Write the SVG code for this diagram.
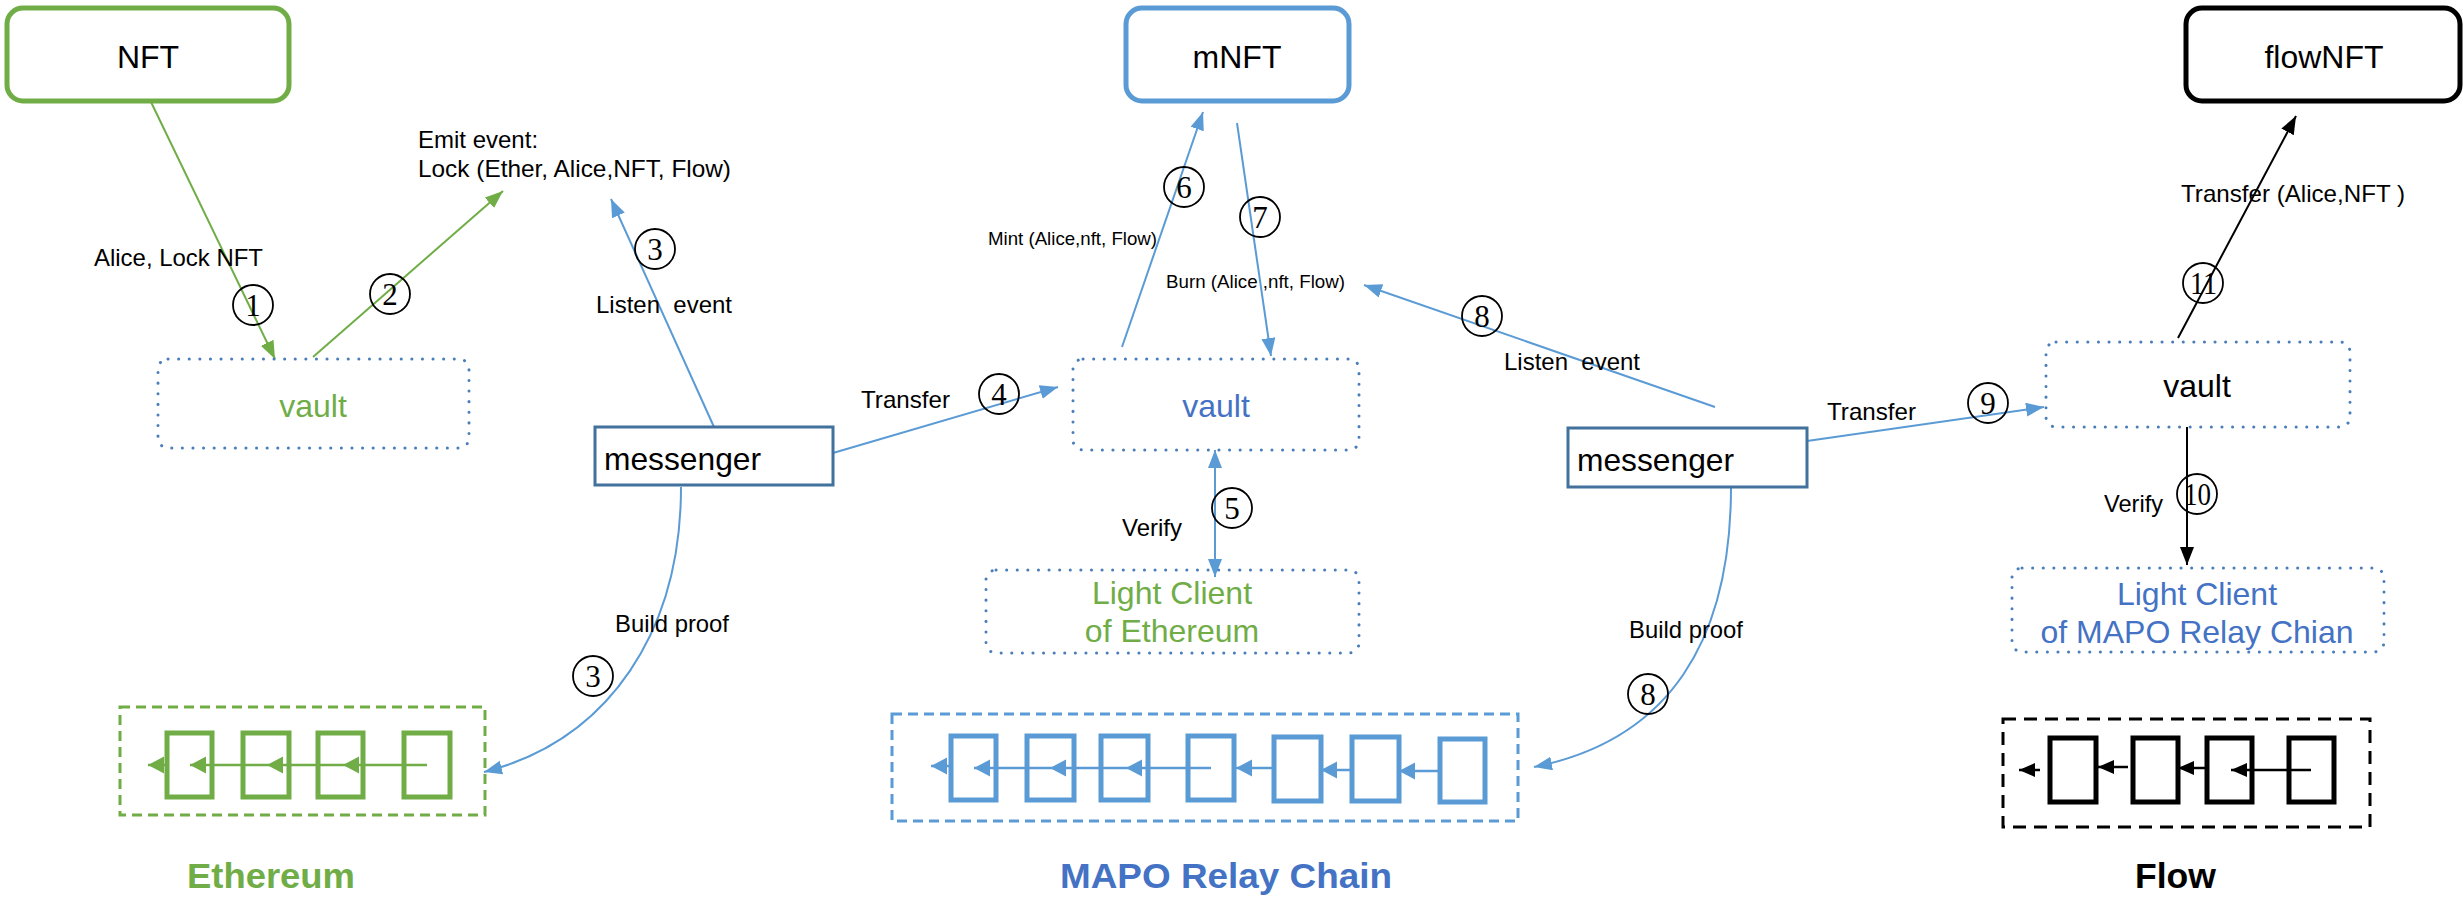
<svg xmlns="http://www.w3.org/2000/svg" width="2463" height="897" viewBox="0 0 2463 897">
<style>
text{font-family:"Liberation Sans",Arial,sans-serif;fill:#000}
.lbl{font-size:24px}
.sm{font-size:19px}
.node{font-size:32px}
.num{font-family:"Liberation Serif","Times New Roman",serif;font-size:31px}
.title{font-size:35px;font-weight:bold}
.pre{white-space:pre}
.top{fill:#fff;stroke-width:5}
.dot{fill:none;stroke:#4A7EBB;stroke-width:3;stroke-dasharray:0.1 10.5;stroke-linecap:round}
.msg{fill:#fff;stroke:#41719C;stroke-width:3}
.circ{fill:none;stroke:#000;stroke-width:1.8}
.g{stroke:#70AD47}
.b{stroke:#5B9BD5}
.k{stroke:#000}
.ln{fill:none;stroke-width:2}
.blk{fill:none;stroke-width:5}
.chain{fill:none;stroke-width:2.5}
</style>
<defs>
<marker id="ag" markerUnits="userSpaceOnUse" markerWidth="20" markerHeight="16" refX="18" refY="7" orient="auto"><path d="M0,0 L18,7 L0,14 z" fill="#70AD47"/></marker>
<marker id="ab" markerUnits="userSpaceOnUse" markerWidth="20" markerHeight="16" refX="18" refY="7" orient="auto-start-reverse"><path d="M0,0 L18,7 L0,14 z" fill="#5B9BD5"/></marker>
<marker id="ak" markerUnits="userSpaceOnUse" markerWidth="20" markerHeight="16" refX="18" refY="7" orient="auto"><path d="M0,0 L18,7 L0,14 z" fill="#000"/></marker>
<marker id="cg" markerUnits="userSpaceOnUse" markerWidth="18" markerHeight="18" refX="16" refY="8.5" orient="auto"><path d="M0,0 L16,8.5 L0,17 z" fill="#70AD47"/></marker>
<marker id="cb" markerUnits="userSpaceOnUse" markerWidth="18" markerHeight="18" refX="16" refY="8.5" orient="auto"><path d="M0,0 L16,8.5 L0,17 z" fill="#5B9BD5"/></marker>
<marker id="ck" markerUnits="userSpaceOnUse" markerWidth="18" markerHeight="16" refX="16" refY="7" orient="auto"><path d="M0,0 L16,7 L0,14 z" fill="#000"/></marker>
</defs>

<g id="connectors">
<path class="ln g" d="M151,102 L275,359" marker-end="url(#ag)"/>
<path class="ln g" d="M313,357 L503,191" marker-end="url(#ag)"/>
<path class="ln b" d="M714,427 L611,199" marker-end="url(#ab)"/>
<path class="ln b" d="M681,487 C681,630 610,740 484,772" marker-end="url(#ab)"/>
<path class="ln b" d="M833,453 L1058,387" marker-end="url(#ab)"/>
<path class="ln b" d="M1215,450 L1215,577" marker-start="url(#ab)" marker-end="url(#ab)"/>
<path class="ln b" d="M1122,347 L1203,112" marker-end="url(#ab)"/>
<path class="ln b" d="M1237,123 L1271,356" marker-end="url(#ab)"/>
<path class="ln b" d="M1715,407 L1364,285" marker-end="url(#ab)"/>
<path class="ln b" d="M1731,487 C1731,640 1670,740 1534,767" marker-end="url(#ab)"/>
<path class="ln b" d="M1807,441 L2044,407" marker-end="url(#ab)"/>
<path class="ln k" d="M2187,427 L2187,565" marker-end="url(#ak)"/>
<path class="ln k" d="M2178,338 L2296,116" marker-end="url(#ak)"/>
</g>

<g id="labels">
<text class="lbl" x="94" y="266" textLength="169" lengthAdjust="spacingAndGlyphs">Alice, Lock NFT</text>
<text class="lbl" x="418" y="148">Emit event:</text>
<text class="lbl" x="418" y="177" textLength="313" lengthAdjust="spacingAndGlyphs">Lock (Ether, Alice,NFT, Flow)</text>
<text class="lbl pre" x="596" y="313" textLength="136" lengthAdjust="spacingAndGlyphs">Listen  event</text>
<text class="lbl" x="615" y="632" textLength="114" lengthAdjust="spacingAndGlyphs">Build proof</text>
<text class="lbl" x="861" y="408" textLength="89" lengthAdjust="spacingAndGlyphs">Transfer</text>
<text class="sm" x="988" y="245" textLength="169" lengthAdjust="spacingAndGlyphs">Mint (Alice,nft, Flow)</text>
<text class="sm" x="1166" y="288" textLength="179" lengthAdjust="spacingAndGlyphs">Burn (Alice ,nft, Flow)</text>
<text class="lbl" x="1122" y="536" textLength="60" lengthAdjust="spacingAndGlyphs">Verify</text>
<text class="lbl pre" x="1504" y="370" textLength="136" lengthAdjust="spacingAndGlyphs">Listen  event</text>
<text class="lbl" x="1629" y="638" textLength="114" lengthAdjust="spacingAndGlyphs">Build proof</text>
<text class="lbl" x="1827" y="420" textLength="89" lengthAdjust="spacingAndGlyphs">Transfer</text>
<text class="lbl" x="2181" y="202" textLength="224" lengthAdjust="spacingAndGlyphs">Transfer (Alice,NFT )</text>
<text class="lbl" x="2104" y="512" textLength="59" lengthAdjust="spacingAndGlyphs">Verify</text>
</g>

<g id="steps">
<circle class="circ" cx="253" cy="305" r="20"/><text class="num" x="253" y="316" text-anchor="middle">1</text>
<circle class="circ" cx="390" cy="294" r="20"/><text class="num" x="390" y="305" text-anchor="middle">2</text>
<circle class="circ" cx="655" cy="249" r="20"/><text class="num" x="655" y="260" text-anchor="middle">3</text>
<circle class="circ" cx="593" cy="676" r="20"/><text class="num" x="593" y="687" text-anchor="middle">3</text>
<circle class="circ" cx="999" cy="394" r="20"/><text class="num" x="999" y="405" text-anchor="middle">4</text>
<circle class="circ" cx="1232" cy="508" r="20"/><text class="num" x="1232" y="519" text-anchor="middle">5</text>
<circle class="circ" cx="1184" cy="187" r="20"/><text class="num" x="1184" y="198" text-anchor="middle">6</text>
<circle class="circ" cx="1260" cy="217" r="20"/><text class="num" x="1260" y="228" text-anchor="middle">7</text>
<circle class="circ" cx="1482" cy="316" r="20"/><text class="num" x="1482" y="327" text-anchor="middle">8</text>
<circle class="circ" cx="1648" cy="694" r="20"/><text class="num" x="1648" y="705" text-anchor="middle">8</text>
<circle class="circ" cx="1988" cy="403" r="20"/><text class="num" x="1988" y="414" text-anchor="middle">9</text>
<circle class="circ" cx="2197" cy="494" r="20"/><text class="num" x="2184" y="505" textLength="27" lengthAdjust="spacingAndGlyphs">10</text>
<circle class="circ" cx="2203" cy="283" r="20"/><text class="num" x="2190" y="294" textLength="27" lengthAdjust="spacingAndGlyphs">11</text>
</g>

<g id="nft">
<rect class="top" x="7" y="8" width="282" height="93" rx="16" stroke="#70AD47"/>
<text class="node" x="148" y="68" text-anchor="middle">NFT</text>
</g>
<g id="mnft">
<rect class="top" x="1126" y="8" width="223" height="93" rx="16" stroke="#5B9BD5"/>
<text class="node" x="1237" y="68" text-anchor="middle">mNFT</text>
</g>
<g id="flownft">
<rect class="top" x="2186" y="8" width="274" height="93" rx="16" stroke="#000"/>
<text class="node" x="2324" y="68" text-anchor="middle">flowNFT</text>
</g>

<g id="vault-eth">
<rect class="dot" x="158" y="359" width="311" height="89" rx="10"/>
<text class="node" x="313" y="417" text-anchor="middle" style="fill:#70AD47">vault</text>
</g>
<g id="vault-mapo">
<rect class="dot" x="1073" y="359" width="286" height="91" rx="10"/>
<text class="node" x="1216" y="417" text-anchor="middle" style="fill:#4472C4">vault</text>
</g>
<g id="vault-flow">
<rect class="dot" x="2046" y="342" width="304" height="85" rx="10"/>
<text class="node" x="2197" y="397" text-anchor="middle">vault</text>
</g>

<g id="messenger-1">
<rect class="msg" x="595" y="427" width="238" height="58"/>
<text class="node" x="604" y="470" textLength="157" lengthAdjust="spacingAndGlyphs">messenger</text>
</g>
<g id="messenger-2">
<rect class="msg" x="1568" y="428" width="239" height="59"/>
<text class="node" x="1577" y="471" textLength="157" lengthAdjust="spacingAndGlyphs">messenger</text>
</g>

<g id="lightclient-eth">
<rect class="dot" x="986" y="570" width="373" height="83" rx="10"/>
<text class="node" x="1172" y="604" text-anchor="middle" style="fill:#70AD47">Light Client</text>
<text class="node" x="1172" y="642" text-anchor="middle" style="fill:#70AD47">of Ethereum</text>
</g>
<g id="lightclient-mapo">
<rect class="dot" x="2012" y="568" width="372" height="84" rx="10"/>
<text class="node" x="2197" y="605" text-anchor="middle" style="fill:#4472C4">Light Client</text>
<text class="node" x="2197" y="643" text-anchor="middle" style="fill:#4472C4">of MAPO Relay Chian</text>
</g>

<g id="chain-ethereum">
<rect x="120" y="707" width="365" height="108" fill="none" stroke="#70AD47" stroke-width="3" stroke-dasharray="10 6"/>
<g class="blk g">
<rect x="167" y="733" width="45" height="64"/>
<rect x="243" y="733" width="46" height="64"/>
<rect x="318" y="733" width="45" height="64"/>
<rect x="404" y="733" width="46" height="64"/>
</g>
<g class="chain g">
<path d="M427,765 L343,765" marker-end="url(#cg)"/>
<path d="M343,765 L267,765" marker-end="url(#cg)"/>
<path d="M267,765 L190,765" marker-end="url(#cg)"/>
<path d="M167,765 L148,765" marker-end="url(#cg)"/>
</g>
<text class="title" x="187" y="888" textLength="168" lengthAdjust="spacingAndGlyphs" style="fill:#70AD47">Ethereum</text>
</g>

<g id="chain-mapo">
<rect x="892" y="714" width="626" height="107" fill="none" stroke="#5B9BD5" stroke-width="3" stroke-dasharray="10 6"/>
<g class="blk b">
<rect x="951" y="736" width="45" height="64"/>
<rect x="1027" y="736" width="47" height="64"/>
<rect x="1101" y="736" width="47" height="64"/>
<rect x="1188" y="736" width="46" height="64"/>
<rect x="1274" y="737" width="47" height="64"/>
<rect x="1352" y="737" width="47" height="64"/>
<rect x="1440" y="739" width="45" height="63"/>
</g>
<g class="chain b">
<path d="M1211,768 L1126,768" marker-end="url(#cb)"/>
<path d="M1126,768 L1050,768" marker-end="url(#cb)"/>
<path d="M1050,768 L974,768" marker-end="url(#cb)"/>
<path d="M951,766 L931,766" marker-end="url(#cb)"/>
<path d="M1274,768 L1236,768" marker-end="url(#cb)"/>
<path d="M1352,770 L1321,770" marker-end="url(#cb)"/>
<path d="M1440,771 L1399,771" marker-end="url(#cb)"/>
</g>
<text class="title" x="1060" y="888" textLength="332" lengthAdjust="spacingAndGlyphs" style="fill:#4472C4">MAPO Relay Chain</text>
</g>

<g id="chain-flow">
<rect x="2003" y="719" width="367" height="108" fill="none" stroke="#000" stroke-width="3" stroke-dasharray="13 8"/>
<g class="blk k">
<rect x="2050" y="738" width="46" height="64"/>
<rect x="2133" y="738" width="45" height="64"/>
<rect x="2207" y="738" width="45" height="64"/>
<rect x="2289" y="738" width="45" height="64"/>
</g>
<g class="chain k">
<path d="M2311,770 L2231,770" marker-end="url(#ck)"/>
<path d="M2207,768 L2178,768" marker-end="url(#ck)"/>
<path d="M2128,767 L2098,767" marker-end="url(#ck)"/>
<path d="M2040,770 L2019,770" marker-end="url(#ck)"/>
</g>
<text class="title" x="2135" y="888" textLength="81" lengthAdjust="spacingAndGlyphs">Flow</text>
</g>
</svg>
